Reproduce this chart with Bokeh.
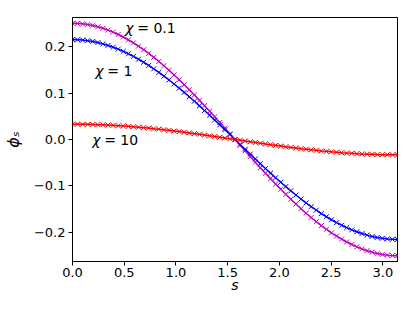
from bokeh.plotting import figure
from bokeh.models import FixedTicker, CustomJSTickFormatter, Range1d
from bokeh.core.properties import value
from bokeh.embed import file_html
from bokeh.resources import INLINE

# grid of s values (0 .. pi)
s = [0.0000, 0.0491, 0.0982, 0.1473, 0.1963, 0.2454, 0.2945, 0.3436, 0.3927, 0.4418,
     0.4909, 0.5400, 0.5890, 0.6381, 0.6872, 0.7363, 0.7854, 0.8345, 0.8836, 0.9327,
     0.9817, 1.0308, 1.0799, 1.1290, 1.1781, 1.2272, 1.2763, 1.3254, 1.3744, 1.4235,
     1.4726, 1.5217, 1.5708, 1.6199, 1.6690, 1.7181, 1.7671, 1.8162, 1.8653, 1.9144,
     1.9635, 2.0126, 2.0617, 2.1108, 2.1598, 2.2089, 2.2580, 2.3071, 2.3562, 2.4053,
     2.4544, 2.5035, 2.5525, 2.6016, 2.6507, 2.6998, 2.7489, 2.7980, 2.8471, 2.8962,
     2.9452, 2.9943, 3.0434, 3.0925, 3.1416]

phi_chi_01 = [0.2500, 0.2497, 0.2488, 0.2473, 0.2452, 0.2425, 0.2392, 0.2354, 0.2310, 0.2260,
              0.2205, 0.2144, 0.2079, 0.2008, 0.1933, 0.1852, 0.1768, 0.1679, 0.1586, 0.1489,
              0.1389, 0.1285, 0.1179, 0.1069, 0.0957, 0.0842, 0.0726, 0.0607, 0.0488, 0.0367,
              0.0245, 0.0123, 0.0000, -0.0123, -0.0245, -0.0367, -0.0488, -0.0607, -0.0726, -0.0842,
              -0.0957, -0.1069, -0.1179, -0.1285, -0.1389, -0.1489, -0.1586, -0.1679, -0.1768, -0.1852,
              -0.1933, -0.2008, -0.2079, -0.2144, -0.2205, -0.2260, -0.2310, -0.2354, -0.2392, -0.2425,
              -0.2452, -0.2473, -0.2488, -0.2497, -0.2500]

phi_chi_1 = [0.2150, 0.2147, 0.2140, 0.2127, 0.2109, 0.2086, 0.2057, 0.2024, 0.1986, 0.1944,
             0.1896, 0.1844, 0.1788, 0.1727, 0.1662, 0.1593, 0.1520, 0.1444, 0.1364, 0.1281,
             0.1194, 0.1105, 0.1014, 0.0919, 0.0823, 0.0724, 0.0624, 0.0522, 0.0419, 0.0315,
             0.0211, 0.0106, 0.0000, -0.0106, -0.0211, -0.0315, -0.0419, -0.0522, -0.0624, -0.0724,
             -0.0823, -0.0919, -0.1014, -0.1105, -0.1194, -0.1281, -0.1364, -0.1444, -0.1520, -0.1593,
             -0.1662, -0.1727, -0.1788, -0.1844, -0.1896, -0.1944, -0.1986, -0.2024, -0.2057, -0.2086,
             -0.2109, -0.2127, -0.2140, -0.2147, -0.2150]

phi_chi_10 = [0.0330, 0.0330, 0.0328, 0.0326, 0.0324, 0.0320, 0.0316, 0.0311, 0.0305, 0.0298,
              0.0291, 0.0283, 0.0274, 0.0265, 0.0255, 0.0245, 0.0233, 0.0222, 0.0209, 0.0197,
              0.0183, 0.0170, 0.0156, 0.0141, 0.0126, 0.0111, 0.0096, 0.0080, 0.0064, 0.0048,
              0.0032, 0.0016, 0.0000, -0.0016, -0.0032, -0.0048, -0.0064, -0.0080, -0.0096, -0.0111,
              -0.0126, -0.0141, -0.0156, -0.0170, -0.0183, -0.0197, -0.0209, -0.0222, -0.0233, -0.0245,
              -0.0255, -0.0265, -0.0274, -0.0283, -0.0291, -0.0298, -0.0305, -0.0311, -0.0316, -0.0320,
              -0.0324, -0.0326, -0.0328, -0.0330, -0.0330]

series_colors = ["#bf00bf", "#0000ff", "#ff0000"]
label_texts = ["= 0.1", "= 1", "= 10"]
label_x = [0.51, 0.22, 0.19]
label_y = [0.240, 0.148, 0.0]

x_ticks = [0.0, 0.5, 1.0, 1.5, 2.0, 2.5, 3.0]
y_ticks = [-0.2, -0.1, 0.0, 0.1, 0.2]

FONT = "DejaVu Sans"

p = figure(width=400, height=296, output_backend="svg", toolbar_location=None,
           x_range=Range1d(0, 3.14159), y_range=Range1d(-0.2625, 0.2625),
           min_border_left=69, min_border_right=3, min_border_top=17, min_border_bottom=35)

p.xgrid.visible = False
p.ygrid.visible = False
p.outline_line_color = "black"
p.outline_line_width = 1
p.background_fill_color = "white"
p.border_fill_color = "white"

for ax in (p.xaxis[0], p.yaxis[0]):
    ax.major_tick_out = 4
    ax.major_tick_in = 0
    ax.minor_tick_out = 0
    ax.minor_tick_in = 0
    ax.axis_line_color = "black"
    ax.major_tick_line_color = "black"
    ax.major_label_text_font = FONT
    ax.major_label_text_font_size = "13px"
    ax.major_label_text_color = "black"
    ax.axis_label_text_font = FONT
    ax.axis_label_text_font_size = "14px"
    ax.axis_label_text_font_style = "italic"
    ax.axis_label_text_color = "black"

p.xaxis.ticker = FixedTicker(ticks=x_ticks)
p.yaxis.ticker = FixedTicker(ticks=y_ticks)
fmt = CustomJSTickFormatter(code="return (tick < -1e-9 ? '\u2212' : '') + Math.abs(tick).toFixed(1);")
p.xaxis.formatter = fmt
p.yaxis.formatter = fmt
p.xaxis.major_label_standoff = 2
p.yaxis.major_label_standoff = 3
p.xaxis.axis_label = "s"
p.yaxis.axis_label = "\u03d5\u209b"
p.xaxis.axis_label_standoff = -3
p.yaxis.axis_label_standoff = 8
p.yaxis.axis_label_text_font_size = "16px"

for ys, c in zip([phi_chi_01, phi_chi_1, phi_chi_10], series_colors):
    p.line(s, ys, line_color=c, line_width=1.5)
    p.scatter(s, ys, marker="x", size=7, line_color=c, line_width=1)

p.text(x=label_x, y=label_y, text=["\u03c7"] * 3, text_font=value(FONT),
       text_font_size="14px", text_font_style="italic", text_baseline="middle",
       text_align="left", text_color="black")
p.text(x=label_x, y=label_y, text=label_texts, text_font=value(FONT),
       text_font_size="14px", text_baseline="middle", x_offset=12,
       text_align="left", text_color="black")

open("out.html", "w").write(file_html(p, INLINE))
